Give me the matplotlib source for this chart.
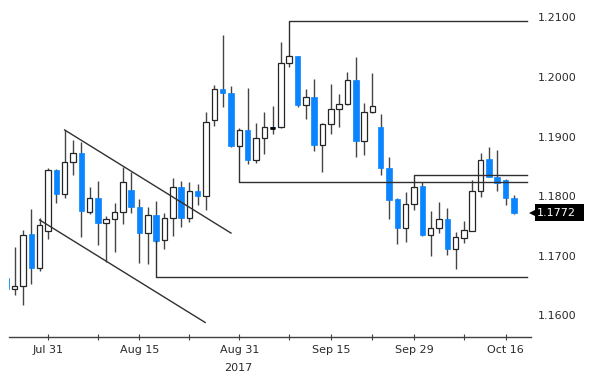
import matplotlib
matplotlib.use("Agg")
import matplotlib.pyplot as plt
import matplotlib.transforms as mtransforms
from matplotlib.patches import Rectangle
import numpy as np
import pandas as pd

# daily EUR/USD candles, Jul 24 - Oct 17 2017
opens = [1.1662, 1.1645, 1.1649, 1.1736, 1.1679, 1.1741, 1.1844, 1.1803, 1.1857, 1.1872,
         1.1773, 1.1797, 1.1755, 1.1761, 1.1773, 1.1810, 1.1781, 1.1738, 1.1768, 1.1726,
         1.1763, 1.1815, 1.1763, 1.1808, 1.1800, 1.1928, 1.1980, 1.1973, 1.1884, 1.1911,
         1.1860, 1.1897, 1.1916, 1.1916, 1.2023, 1.2035, 1.1953, 1.1966, 1.1886, 1.1921,
         1.1946, 1.1954, 1.1995, 1.1892, 1.1941, 1.1916, 1.1848, 1.1795, 1.1746, 1.1786,
         1.1817, 1.1734, 1.1746, 1.1761, 1.1712, 1.1729, 1.1741, 1.1808, 1.1862, 1.1832,
         1.1827, 1.1797]
highs = [1.1665, 1.1714, 1.1743, 1.1778, 1.1763, 1.1847, 1.1845, 1.1911, 1.1894, 1.1891,
         1.1815, 1.1825, 1.1766, 1.1788, 1.1849, 1.1840, 1.1795, 1.1781, 1.1791, 1.1771,
         1.1830, 1.1825, 1.1823, 1.1820, 1.1941, 1.1986, 1.2070, 1.1985, 1.1914, 1.1981,
         1.1922, 1.1941, 1.1951, 1.2059, 1.2036, 1.2035, 1.1980, 1.1996, 1.1922, 1.1988,
         1.1971, 1.2008, 1.2033, 1.1956, 1.2007, 1.1938, 1.1865, 1.1797, 1.1807, 1.1816,
         1.1823, 1.1775, 1.1790, 1.1780, 1.1739, 1.1758, 1.1827, 1.1872, 1.1882, 1.1877,
         1.1828, 1.1802]
lows = [1.1640, 1.1634, 1.1617, 1.1652, 1.1674, 1.1728, 1.1788, 1.1797, 1.1835, 1.1731,
        1.1770, 1.1718, 1.1689, 1.1706, 1.1753, 1.1771, 1.1687, 1.1686, 1.1722, 1.1712,
        1.1733, 1.1748, 1.1756, 1.1785, 1.1776, 1.1917, 1.1949, 1.1882, 1.1882, 1.1854,
        1.1855, 1.1870, 1.1904, 1.1914, 1.2017, 1.1949, 1.1929, 1.1875, 1.1840, 1.1904,
        1.1916, 1.1953, 1.1865, 1.1869, 1.1940, 1.1835, 1.1761, 1.1719, 1.1723, 1.1776,
        1.1733, 1.1699, 1.1738, 1.1702, 1.1677, 1.1721, 1.1741, 1.1798, 1.1832, 1.1808,
        1.1785, 1.1770]
closes = [1.1645, 1.1649, 1.1734, 1.1679, 1.1751, 1.1844, 1.1803, 1.1857, 1.1872, 1.1775,
          1.1797, 1.1755, 1.1761, 1.1773, 1.1823, 1.1781, 1.1738, 1.1768, 1.1724, 1.1763,
          1.1815, 1.1763, 1.1808, 1.1800, 1.1924, 1.1980, 1.1973, 1.1884, 1.1911, 1.1860,
          1.1897, 1.1916, 1.1915, 1.2023, 1.2035, 1.1953, 1.1966, 1.1886, 1.1921, 1.1946,
          1.1954, 1.1995, 1.1892, 1.1941, 1.1951, 1.1848, 1.1793, 1.1746, 1.1786, 1.1815,
          1.1734, 1.1746, 1.1761, 1.1712, 1.1731, 1.1743, 1.1808, 1.1860, 1.1832, 1.1822,
          1.1797, 1.1772]

y_ticks = [1.16, 1.17, 1.18, 1.19, 1.20, 1.21]
x_labels = ["Jul 31", "Aug 15", "Aug 31", "Sep 15", "Sep 29", "Oct 16"]
x_minor = [11, 22, 34, 44, 55]
last_price = 1.1772

# drawn trend channel (start index, start price, end index, end price)
channel_upper = (7.0, 1.1911, 27.0, 1.1738)
channel_lower = (4.0, 1.1760, 23.9, 1.1588)
# horizontal levels: (anchor candle, anchor price, level)
levels = [(18, 1.1724, 1.1665), (28, 1.1884, 1.1824), (49, 1.1816, 1.1835), (34, 1.2036, 1.2093)]
line_end = 62.6

BLUE = "#0a84ff"
DARK = "#303030"
TXT = "#2a2a2a"


def main():
    dates = pd.bdate_range("2017-07-24", periods=len(opens))
    o = np.array(opens)
    h = np.array(highs)
    lo = np.array(lows)
    c = np.array(closes)
    idx = np.arange(len(o))
    up = c >= o

    fig = plt.figure(figsize=(6, 3.83), dpi=100)
    ax = fig.add_axes([0.0148, 0.120, 0.870, 0.880])

    ax.vlines(idx, lo, h, color="#454545", linewidth=1.0, zorder=1)
    width = 0.66
    body_bot = np.minimum(o, c)
    body_h = np.maximum(np.abs(c - o), 0.00006)
    ax.bar(idx[up], body_h[up], width, bottom=body_bot[up], facecolor="white",
           edgecolor="#252525", linewidth=0.9, zorder=2)
    ax.bar(idx[~up], body_h[~up], width, bottom=body_bot[~up], facecolor=BLUE,
           edgecolor=BLUE, linewidth=0.5, zorder=2)
    doji = np.abs(c - o) < 0.00015
    ax.hlines(c[doji], idx[doji] - 0.33, idx[doji] + 0.33, color="black", linewidth=2, zorder=3)

    for x0, y0, x1, y1 in [channel_upper, channel_lower]:
        ax.plot([x0, x1], [y0, y1], color=DARK, linewidth=1.0, zorder=4)
    for i, p0, lvl in levels:
        ax.plot([i, i, line_end], [p0, lvl, lvl], color=DARK, linewidth=1.0, zorder=4)

    ax.set_xlim(0.3, 63.05)
    ax.set_ylim(1.15636, 1.2129)

    for s in ["top", "left", "right"]:
        ax.spines[s].set_visible(False)
    ax.spines["bottom"].set_color("#404040")
    ax.spines["bottom"].set_linewidth(1.0)

    ax.yaxis.tick_right()
    ax.set_yticks(y_ticks)
    ax.set_yticklabels(["{:.4f}".format(v) for v in y_ticks])
    ax.tick_params(axis="y", length=0, pad=5, labelsize=8, colors=TXT)

    label_dates = [pd.Timestamp(s + " 2017") for s in x_labels]
    x_pos = [int(np.where(dates == d)[0][0]) for d in label_dates]
    ax.set_xticks(x_pos)
    ax.set_xticklabels(x_labels)
    ax.set_xticks(x_minor, minor=True)
    ax.tick_params(axis="x", which="both", direction="inout", length=4, width=0.8,
                   color="#404040", labelsize=8, pad=4, labelcolor=TXT)
    ax.text(27.9, -0.092, "2017", transform=mtransforms.blended_transform_factory(ax.transData, ax.transAxes),
            ha="center", va="center", fontsize=8, color=TXT)

    # last price flag on the right
    trans = mtransforms.blended_transform_factory(ax.transAxes, ax.transData)
    ax.add_patch(Rectangle((1.0077, last_price - 0.00142), 0.094, 0.00286, transform=trans,
                           facecolor="black", edgecolor="none", clip_on=False))
    ax.plot([1.0045], [last_price], marker="<", markersize=6, color="black", markeredgewidth=0,
            transform=trans, clip_on=False)
    ax.text(1.0115, last_price, "{:.4f}".format(last_price), transform=trans, ha="left",
            va="center", fontsize=8, color="white")

    fig.savefig("out.png", dpi=100)


if __name__ == "__main__":
    main()
